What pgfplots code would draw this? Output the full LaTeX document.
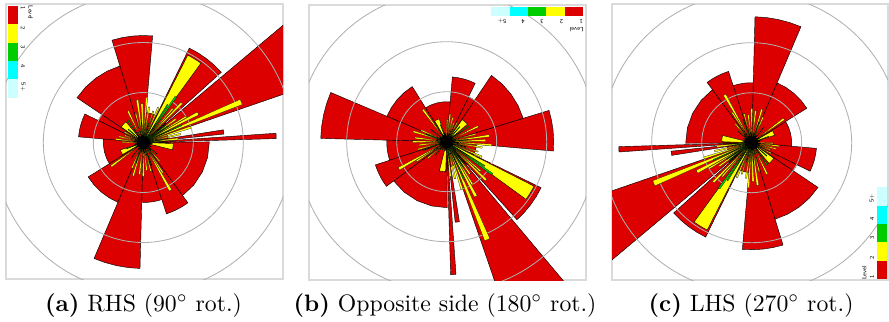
\documentclass[border=0pt]{standalone}
\usepackage{pgfplots}
\pgfplotsset{compat=1.18}
\definecolor{lvA}{RGB}{220,0,0}
\definecolor{lvB}{RGB}{255,255,0}
\definecolor{lvC}{RGB}{0,205,0}
\definecolor{lvD}{RGB}{0,255,255}
\definecolor{lvE}{RGB}{204,255,255}
\definecolor{ringc}{RGB}{175,175,175}
\definecolor{boxc}{RGB}{218,218,218}
\definecolor{coreg}{RGB}{0,100,0}
\def\un{0.4211pt}
\def\myrot{0}
\tikzset{legtxt/.style={font=\fontsize{2.6}{2.8}\selectfont\sffamily,inner sep=0pt,anchor=center}}
\pgfplotsset{panel/.style={anchor=origin,x=\un,y=\un,xtick=\empty,ytick=\empty,
  axis line style={boxc,line width=0.5pt}}}
% wedge: colour, start angle, end angle, radius (px)
\newcommand\W[4]{\addplot[fill=#1,draw=black,line width=0.18pt] table[row sep=\\,
  x expr={#4*\thisrow{s}*cos(#2+\thisrow{f}*(#3-#2)+\myrot)},
  y expr={#4*\thisrow{s}*sin(#2+\thisrow{f}*(#3-#2)+\myrot)}]
  {f s\\0 0\\0 1\\0.25 1\\0.5 1\\0.75 1\\1 1\\0 0\\};}
\newcommand\Ws[4]{\addplot[fill=#1,draw=black,line width=0.08pt] table[row sep=\\,
  x expr={#4*\thisrow{s}*cos(#2+\thisrow{f}*(#3-#2)+\myrot)},
  y expr={#4*\thisrow{s}*sin(#2+\thisrow{f}*(#3-#2)+\myrot)}]
  {f s\\0 0\\0 1\\1 1\\0 0\\};}
\newcommand\roseData{%
% level 1
\W{lvA}{306.5}{360.5}{66}
\W{lvA}{0.5}{1.7}{28}
\W{lvA}{1.7}{4}{133}
\W{lvA}{4}{6}{28}
\W{lvA}{6}{9}{81}
\W{lvA}{9}{19}{25}
\W{lvA}{19}{40}{200}
\W{lvA}{40}{42}{30}
\W{lvA}{42}{64}{105}
\W{lvA}{64}{85}{30}
\W{lvA}{85}{107}{107}
\W{lvA}{107}{146}{80}
\W{lvA}{146}{154}{50}
\W{lvA}{154}{175}{65}
\W{lvA}{175}{212}{40}
\W{lvA}{212}{247}{65}
\W{lvA}{247}{268.5}{126}
\W{lvA}{268.5}{288}{60}
\W{lvA}{288}{306.5}{75}
\begin{scope}
\clip (rel axis cs:0,0) rectangle (rel axis cs:1,1);
\draw[ringc,line width=0.35pt] (axis cs:0,0) circle[radius=21.05pt]
  (axis cs:0,0) circle[radius=42.11pt] (axis cs:0,0) circle[radius=63.16pt];
\end{scope}
% level 2
\W{lvB}{54}{63}{98}
\Ws{lvB}{21}{24}{106}
\Ws{lvB}{26.5}{29.5}{62}
\Ws{lvB}{30}{32}{50}
\Ws{lvB}{34.5}{37}{40}
\Ws{lvB}{44.5}{47}{55}
\Ws{lvB}{48}{50}{45}
\Ws{lvB}{65.5}{68}{38}
\Ws{lvB}{71.5}{73.5}{33}
\Ws{lvB}{79.5}{82}{36}
\Ws{lvB}{84.5}{87}{45}
\Ws{lvB}{90.5}{93.5}{39}
\Ws{lvB}{96.5}{99.5}{43}
\Ws{lvB}{103.5}{106}{30}
\Ws{lvB}{114.5}{117.5}{35}
\W{lvB}{130}{145}{27}
\Ws{lvB}{149.5}{152.5}{22}
\Ws{lvB}{157.5}{160.5}{20}
\Ws{lvB}{164.5}{167.5}{25}
\Ws{lvB}{171.5}{174.5}{28}
\Ws{lvB}{177.5}{180.5}{22}
\W{lvB}{198}{210}{24}
\Ws{lvB}{215}{218}{40}
\Ws{lvB}{244.5}{247.5}{28}
\Ws{lvB}{251.5}{254.5}{35}
\Ws{lvB}{261.5}{264.5}{32}
\Ws{lvB}{268.5}{271.5}{34}
\Ws{lvB}{275.5}{278.5}{28}
\Ws{lvB}{283.5}{286}{30}
\Ws{lvB}{298}{301}{55}
\Ws{lvB}{301.5}{304}{36}
\Ws{lvB}{309.5}{312.5}{25}
\W{lvB}{346}{358}{30}
\Ws{lvB}{4.5}{7.5}{35}
\Ws{lvB}{11.5}{14}{38}
\Ws{lvB}{16.5}{19}{50}
% level 3
\Ws{lvC}{53.5}{55.5}{56}
\Ws{lvC}{56.5}{58}{45}
\Ws{lvC}{23.5}{25}{42}
\Ws{lvC}{32.5}{34}{30}
\Ws{lvC}{37.5}{39}{28}
\Ws{lvC}{123.5}{126}{27}
\Ws{lvC}{137.5}{140}{20}
\Ws{lvC}{249.5}{251}{22}
\Ws{lvC}{289.5}{291}{25}
\Ws{lvC}{319.5}{321}{18}
\Ws{lvC}{199.5}{201}{18}
\Ws{lvC}{94.5}{96}{22}
\Ws{lvC}{74.5}{76}{20}
\Ws{lvC}{7.5}{9}{20}
\Ws{lvC}{231.5}{233}{20}
% dense centre
\addplot[fill=coreg,draw=black,line width=0.1pt] table[row sep=\\,
  x expr={\thisrow{r}*cos(\thisrow{a}+\myrot)},y expr={\thisrow{r}*sin(\thisrow{a}+\myrot)}]
{a r\\0 0\\0 8\\3 8\\0 0\\7.5 6\\10.5 6\\0 0\\15 9\\18 9\\0 0\\22.5 7\\25.5 7\\0 0\\30 9\\33 9\\0 0\\37.5 6\\40.5 6\\0 0\\45 10\\48 10\\0 0\\52.5 7\\55.5 7\\0 0\\60 7\\63 7\\0 0\\67.5 9\\70.5 9\\0 0\\75 6\\78 6\\0 0\\82.5 10\\85.5 10\\0 0\\90 8\\93 8\\0 0\\97.5 7\\100.5 7\\0 0\\105 9\\108 9\\0 0\\112.5 6\\115.5 6\\0 0\\120 7\\123 7\\0 0\\127.5 10\\130.5 10\\0 0\\135 7\\138 7\\0 0\\142.5 8\\145.5 8\\0 0\\150 6\\153 6\\0 0\\157.5 9\\160.5 9\\0 0\\165 7\\168 7\\0 0\\172.5 9\\175.5 9\\0 0\\180 6\\183 6\\0 0\\187.5 8\\190.5 8\\0 0\\195 10\\198 10\\0 0\\202.5 7\\205.5 7\\0 0\\210 9\\213 9\\0 0\\217.5 7\\220.5 7\\0 0\\225 6\\228 6\\0 0\\232.5 9\\235.5 9\\0 0\\240 8\\243 8\\0 0\\247.5 7\\250.5 7\\0 0\\255 10\\258 10\\0 0\\262.5 6\\265.5 6\\0 0\\270 9\\273 9\\0 0\\277.5 7\\280.5 7\\0 0\\285 9\\288 9\\0 0\\292.5 7\\295.5 7\\0 0\\300 8\\303 8\\0 0\\307.5 6\\310.5 6\\0 0\\315 10\\318 10\\0 0\\322.5 7\\325.5 7\\0 0\\330 9\\333 9\\0 0\\337.5 7\\340.5 7\\0 0\\345 8\\348 8\\0 0\\352.5 9\\355.5 9\\0 0\\};
\W{black}{0}{90}{4.5}
\W{black}{90}{180}{4.5}
\W{black}{180}{270}{4.5}
\W{black}{270}{360}{4.5}
% colour key
\begin{scope}[rotate around={\myrot:(axis cs:0,0)}]
\fill[lvA] (axis cs:-135,136.5) rectangle (axis cs:-125.6,118.5);
\fill[lvB] (axis cs:-135,118.5) rectangle (axis cs:-125.6,99.5);
\fill[lvC] (axis cs:-135,99.5) rectangle (axis cs:-125.6,81.5);
\fill[lvD] (axis cs:-135,81.5) rectangle (axis cs:-125.6,63.5);
\fill[lvE] (axis cs:-135,63.5) rectangle (axis cs:-125.6,44.5);
\node[legtxt,rotate=\myrot-90] at (axis cs:-120.3,134.5) {1};
\node[legtxt,rotate=\myrot-90] at (axis cs:-120.3,114.8) {2};
\node[legtxt,rotate=\myrot-90] at (axis cs:-120.3,95.4) {3};
\node[legtxt,rotate=\myrot-90] at (axis cs:-120.3,76.4) {4};
\node[legtxt,rotate=\myrot-90] at (axis cs:-120.3,55.4) {5+};
\node[legtxt,rotate=\myrot-90] at (axis cs:-112.5,130) {Level};
\end{scope}
}
\begin{document}
\begin{tikzpicture}
\path[use as bounding box] (0,0) rectangle (889*\un,-321*\un);
\def\myrot{0}
\begin{axis}[panel,at={(143.3*\un,-142.5*\un)},xmin=-137.3,xmax=139.7,ymin=-136.5,ymax=138.5]
\roseData
\end{axis}
\def\myrot{-90}
\begin{axis}[panel,at={(446.7*\un,-141.7*\un)},xmin=-137.7,xmax=139.3,ymin=-138.3,ymax=136.7]
\roseData
\end{axis}
\def\myrot{180}
\begin{axis}[panel,at={(751.7*\un,-142.7*\un)},xmin=-139.7,xmax=136.3,ymin=-137.3,ymax=138.7]
\roseData
\end{axis}
\node[anchor=base] at (143.5*\un,-311*\un) {\textbf{(a)} RHS (90$^\circ$ rot.)};
\node[anchor=base] at (445*\un,-311*\un) {\textbf{(b)} Opposite side (180$^\circ$ rot.)};
\node[anchor=base] at (751*\un,-311*\un) {\textbf{(c)} LHS (270$^\circ$ rot.)};
\end{tikzpicture}
\end{document}
